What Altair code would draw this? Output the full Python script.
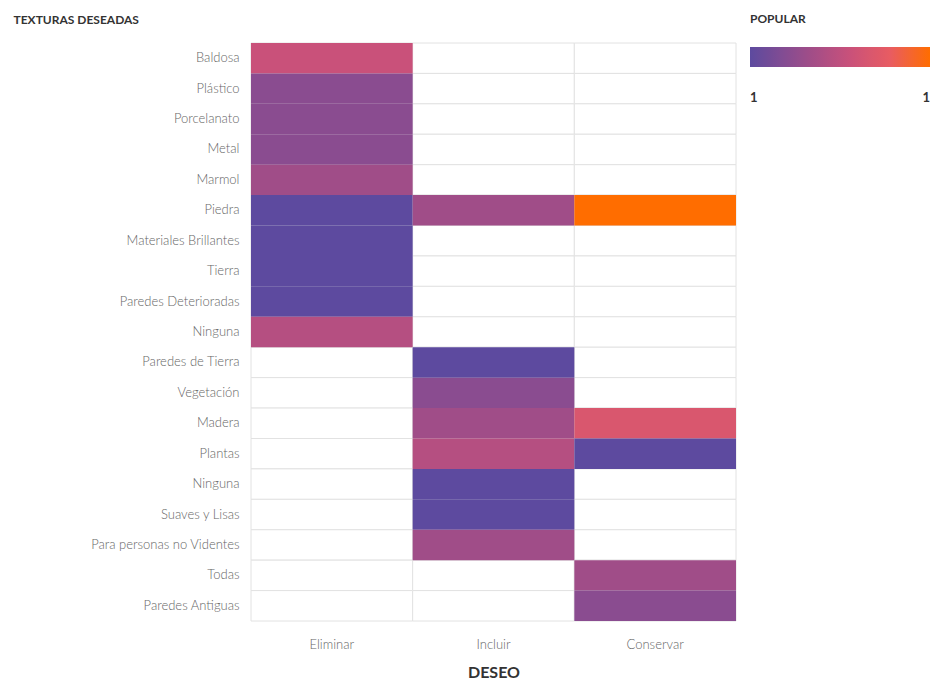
import altair as alt
import pandas as pd

# Row order (top to bottom); the second "Ninguna" carries a zero-width space to stay distinct
texturas = [
    "Baldosa", "Plástico", "Porcelanato", "Metal", "Marmol", "Piedra",
    "Materiales Brillantes", "Tierra", "Paredes Deterioradas", "Ninguna",
    "Paredes de Tierra", "Vegetación", "Madera", "Plantas", "Ninguna\u200b",
    "Suaves y Lisas", "Para personas no Videntes", "Todas", "Paredes Antiguas",
]
deseos = ["Eliminar", "Incluir", "Conservar"]

# Filled cells
cell_textura = [
    "Baldosa", "Plástico", "Porcelanato", "Metal", "Marmol", "Piedra",
    "Materiales Brillantes", "Tierra", "Paredes Deterioradas", "Ninguna",
    "Piedra", "Paredes de Tierra", "Vegetación", "Madera", "Plantas",
    "Ninguna\u200b", "Suaves y Lisas", "Para personas no Videntes",
    "Piedra", "Madera", "Plantas", "Todas", "Paredes Antiguas",
]
cell_deseo = [
    "Eliminar", "Eliminar", "Eliminar", "Eliminar", "Eliminar", "Eliminar",
    "Eliminar", "Eliminar", "Eliminar", "Eliminar",
    "Incluir", "Incluir", "Incluir", "Incluir", "Incluir",
    "Incluir", "Incluir", "Incluir",
    "Conservar", "Conservar", "Conservar", "Conservar", "Conservar",
]
cell_popular = [
    6, 3, 3, 3, 4, 1,
    1, 1, 1, 5,
    4, 1, 3, 4, 5,
    1, 1, 4,
    10, 7, 1, 4, 3,
]

color_domain = [1, 4, 6, 8, 10]
color_range = ["#5d4a9f", "#a04d88", "#c9517a", "#e85c62", "#ff6d00"]

grid_df = pd.DataFrame(
    [{"textura": t, "deseo": d} for t in texturas for d in deseos]
)
cells_df = pd.DataFrame(
    {"textura": cell_textura, "deseo": cell_deseo, "popular": cell_popular}
)

FONT = "Lato"
LABEL_COLOR = "#666666"

x_enc = alt.X(
    "deseo:N",
    sort=deseos,
    scale=alt.Scale(paddingInner=0, paddingOuter=0),
    axis=alt.Axis(
        title="DESEO",
        titleFont=FONT,
        titleFontSize=16,
        titleFontWeight="bold",
        titleColor="#333333",
        titlePadding=13,
        labelFont=FONT,
        labelFontSize=13,
        labelFontWeight=300,
        labelColor=LABEL_COLOR,
        labelPadding=17,
        labelAngle=0,
        ticks=False,
        domain=False,
    ),
)
y_enc = alt.Y(
    "textura:N",
    sort=texturas,
    scale=alt.Scale(paddingInner=0, paddingOuter=0),
    axis=alt.Axis(
        title="TEXTURAS DESEADAS",
        titleAngle=0,
        titleAlign="left",
        titleBaseline="top",
        titleX=-238,
        titleY=-29,
        titleFont=FONT,
        titleFontSize=12,
        titleFontWeight="bold",
        titleColor="#333333",
        labelFont=FONT,
        labelFontSize=13,
        labelFontWeight=300,
        labelColor=LABEL_COLOR,
        labelPadding=12,
        ticks=False,
        domain=False,
    ),
)

grid = alt.Chart(grid_df).mark_rect(
    fill="white", stroke="#e2e2e2", strokeWidth=1
).encode(x=x_enc, y=y_enc)

heat = alt.Chart(cells_df).mark_rect().encode(
    x=x_enc,
    y=y_enc,
    color=alt.Color(
        "popular:Q",
        scale=alt.Scale(domain=color_domain, range=color_range, interpolate="rgb"),
        legend=alt.Legend(
            title="POPULAR",
            orient="none",
            legendX=499,
            legendY=-29,
            direction="horizontal",
            gradientLength=180,
            gradientThickness=20,
            gradientStrokeWidth=0,
            titleFont=FONT,
            titleFontSize=12,
            titleFontWeight="bold",
            titleColor="#333333",
            titlePadding=21,
            labelFont=FONT,
            labelFontSize=13,
            labelFontWeight="bold",
            labelColor="#333333",
            labelOffset=25,
            values=[1, 10],
            labelExpr="substring(datum.label, 0, 1)",
        ),
    ),
)

chart = (
    alt.layer(grid, heat)
    .properties(width=485, height=578)
    .configure_view(stroke=None)
)

chart.save("out.html", embed_options={"renderer": "svg", "actions": False})
